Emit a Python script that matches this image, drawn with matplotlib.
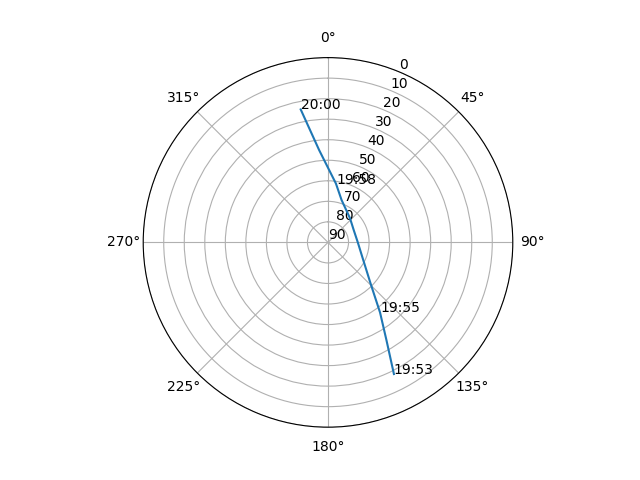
import numpy as np
import matplotlib
matplotlib.use("Agg")
import matplotlib.pyplot as plt

# satellite pass (azimuth deg clockwise from N, elevation deg)
azimuth = [153.4, 149.1, 143.4, 134.7, 116.6, 89.8, 64.2, 42.4, 17.7, 7.7, -5.5, -11.6]
elevation = [18.3, 34.6, 47.5, 60.5, 70.8, 75.5, 76.1, 74.1, 68.3, 61.1, 44.8, 23.9]

# which points get a time label
label_idx = [0, 2, 9, 11]
label_text = ["19:53", "19:55", "19:58", "20:00"]

fig = plt.figure(figsize=(6.4, 4.8), dpi=100)
ax = fig.add_subplot(111, projection="polar")
ax.set_theta_zero_location("N")
ax.set_theta_direction(-1)

theta = np.radians(azimuth)
ax.plot(theta, elevation)

for i, txt in zip(label_idx, label_text):
    ax.text(theta[i], elevation[i], txt)

ax.set_ylim(90, 0)
ax.set_yticks(range(0, 91, 10))

fig.savefig("out.png")
